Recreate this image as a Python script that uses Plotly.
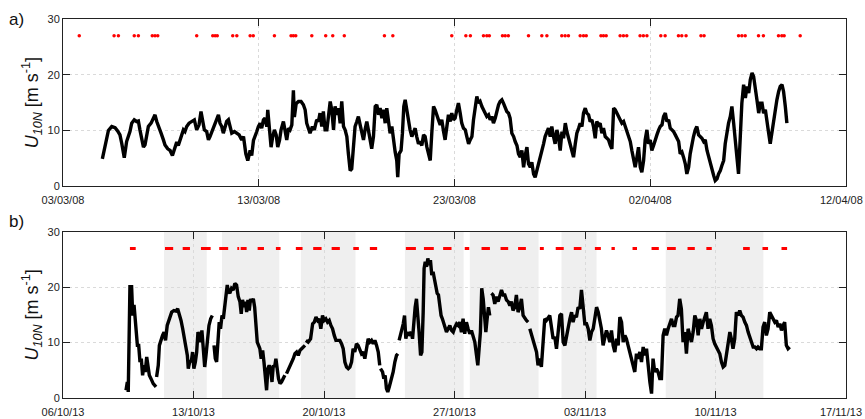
import pandas as pd
import plotly.graph_objects as go

# ---------------- data ----------------
# Panel a): March-April 2008, time in days after 03/03/08 00:00
base_a = pd.Timestamp("2008-03-03")
days_a = [
    2.01, 2.32, 2.49, 2.66, 2.79, 2.91, 3.00, 3.13, 3.25, 3.34, 3.42, 3.51, 3.64, 3.76, 3.85, 3.93,
    4.02, 4.11, 4.19, 4.28, 4.36, 4.50, 4.62, 4.70, 4.79, 4.87, 5.01, 5.13, 5.21, 5.35, 5.47, 5.59,
    5.69, 5.81, 5.89, 5.98, 6.06, 6.15, 6.23, 6.32, 6.44, 6.58, 6.71, 6.83, 6.95, 7.05, 7.12, 7.22,
    7.34, 7.43, 7.51, 7.63, 7.73, 7.85, 7.94, 8.02, 8.11, 8.19, 8.28, 8.36, 8.45, 8.53, 8.62, 8.76,
    8.88, 9.00, 9.13, 9.22, 9.34, 9.44, 9.56, 9.64, 9.73, 9.81, 9.90, 9.98, 10.07, 10.15, 10.24, 10.32,
    10.41, 10.46, 10.53, 10.63, 10.71, 10.80, 10.89, 10.97, 11.06, 11.14, 11.26, 11.35, 11.43, 11.52,
    11.60, 11.69, 11.77, 11.82, 11.91, 12.03, 12.16, 12.28, 12.37, 12.45, 12.54, 12.62, 12.74, 12.84,
    12.96, 13.05, 13.13, 13.22, 13.30, 13.39,
    13.48, 13.56, 13.65, 13.73, 13.82, 13.90, 13.99, 14.07, 14.16, 14.24, 14.33, 14.41, 14.50, 14.58,
    14.67, 14.75, 14.84, 14.92, 15.01, 15.09, 15.18, 15.26, 15.35, 15.43, 15.52, 15.60, 15.69, 15.77,
    15.86, 15.95, 16.03, 16.12, 16.20, 16.29, 16.37, 16.46, 16.54, 16.63, 16.71, 16.80, 16.88, 16.97,
    17.05, 17.10, 17.17, 17.27, 17.34, 17.41, 17.48, 17.56, 17.65, 17.73, 17.82, 17.90, 17.99, 18.07,
    18.16, 18.24, 18.33, 18.42, 18.50, 18.59, 18.67, 18.76, 18.84, 18.93, 19.01, 19.10, 19.18, 19.27,
    19.35, 19.44, 19.52, 19.61, 19.69, 19.78, 19.86, 19.95, 20.03, 20.12, 20.20, 20.29, 20.37, 20.46,
    20.55, 20.63, 20.72, 20.80, 20.89, 20.97, 21.06, 21.14, 21.23, 21.31, 21.40, 21.48, 21.57, 21.65,
    21.74, 21.82, 21.91, 21.99, 22.08, 22.16, 22.25, 22.33, 22.42, 22.50, 22.59, 22.67, 22.76, 22.84,
    22.93, 23.02, 23.10, 23.19, 23.27, 23.36, 23.44, 23.53, 23.61, 23.70, 23.78, 23.87, 23.95, 24.04,
    24.12, 24.21, 24.29, 24.38, 24.46, 24.55, 24.63, 24.72, 24.80, 24.89, 24.97, 25.06, 25.14, 25.23,
    25.31, 25.40, 25.49, 25.57,
    25.66, 25.74, 25.83, 25.91, 26.00, 26.08, 26.17, 26.25, 26.34, 26.42, 26.51, 26.59, 26.68, 26.76,
    26.85, 26.93, 27.02, 27.10, 27.19, 27.27, 27.36, 27.44, 27.53, 27.61, 27.70, 27.79, 27.87, 27.96,
    28.04, 28.13, 28.21, 28.30, 28.38, 28.47, 28.55, 28.64, 28.72, 28.81, 28.89, 28.98, 29.06, 29.15,
    29.23, 29.32, 29.40, 29.49, 29.57, 29.66, 29.74, 29.83, 29.91, 30.00, 30.08, 30.17, 30.26, 30.34,
    30.43, 30.51, 30.60, 30.68, 30.77, 30.85, 30.94, 31.02, 31.11, 31.19, 31.28, 31.36, 31.45, 31.53,
    31.62, 31.70, 31.79, 31.87, 31.96, 32.04, 32.13, 32.21, 32.30, 32.38, 32.47, 32.56, 32.64, 32.73,
    32.81, 32.90, 32.98, 33.07, 33.15, 33.24, 33.32, 33.41, 33.49, 33.58, 33.66, 33.75, 33.83, 33.92,
    34.00, 34.09, 34.17, 34.26, 34.34, 34.43, 34.51, 34.60, 34.68, 34.77, 34.86, 34.94, 35.03, 35.11,
    35.20, 35.28, 35.37, 35.45, 35.54, 35.62, 35.71, 35.79, 35.88, 35.96, 36.05, 36.13, 36.22, 36.30,
    36.39, 36.47, 36.56, 36.64, 36.73, 36.81, 36.90, 36.98,
]
u10_a = [
    4.9, 10.0, 10.7, 10.5, 9.9, 9.2, 7.7, 5.1, 8.0, 8.9, 9.8, 11.3, 11.9, 11.6, 11.7, 10.1,
    8.6, 7.0, 7.4, 8.8, 10.7, 11.3, 12.2, 12.8, 11.6, 10.7, 9.5, 8.3, 7.4, 6.7, 6.4, 5.5,
    6.4, 7.9, 7.3, 8.2, 8.8, 10.1, 9.8, 10.7, 11.3, 11.6, 11.9, 10.1, 11.0, 13.4, 11.9, 10.1,
    9.8, 8.3, 8.9, 10.1, 11.0, 11.9, 12.8, 11.3, 10.7, 9.5, 10.7, 11.6, 11.9, 10.4, 9.5, 9.8,
    9.5, 9.2, 8.3, 8.9, 5.8, 4.6, 6.4, 5.5, 8.2, 9.2, 9.8, 10.7, 11.3, 10.4, 11.9, 12.2,
    10.7, 13.7, 10.7, 7.0, 8.8, 10.1, 9.2, 7.0, 8.2, 10.1, 11.6, 9.5, 8.3, 10.4,
    10.1, 11.0, 17.2, 12.4, 14.8, 15.2, 15.2, 14.6, 13.7, 11.3, 10.4, 9.5, 10.7, 10.1,
    11.9, 11.6, 13.1, 10.7, 13.4, 10.1,
    10.1, 12.2, 15.2, 13.7, 10.1, 14.3, 12.8, 14.0, 11.3, 15.2, 10.7, 10.1, 8.9, 5.8,
    2.8, 3.1, 8.3, 10.7, 11.6, 12.5, 11.0, 9.8, 8.3, 10.1, 11.6, 10.1, 8.3, 6.7,
    8.9, 14.3, 14.6, 12.8, 14.0, 12.2, 13.7, 11.3, 14.0, 11.9, 9.5, 10.7, 8.3, 6.1,
    4.6, 1.6, 5.8, 6.4, 9.5, 14.3, 15.5, 13.7, 11.9, 10.1, 8.9, 9.5, 10.4, 8.9,
    7.6, 8.0, 7.3, 9.2, 8.9, 7.0, 5.8, 4.6, 9.5, 14.3, 13.7, 12.5, 11.9, 11.0,
    11.9, 9.8, 8.3, 10.7, 12.8, 11.6, 13.1, 11.9, 12.2, 13.7, 14.9, 13.1, 11.3, 10.4,
    10.1, 8.9, 7.6, 8.3, 8.9, 11.9, 14.3, 16.1, 14.9, 15.2, 14.3, 13.7, 13.1, 12.5,
    12.8, 11.9, 12.5, 11.3, 12.2, 13.4, 14.6, 15.2, 15.5, 14.9, 14.0, 13.4, 13.1, 12.2,
    9.5, 8.9, 8.0, 7.3, 5.8, 5.2, 6.4, 3.4, 5.5, 7.0, 4.0, 3.4, 4.3, 2.2,
    1.6, 2.8, 3.7, 5.2, 6.1, 7.6, 8.9, 9.8, 10.4, 8.9, 10.7, 8.9, 7.6, 10.1,
    8.9, 6.4, 9.8, 8.6,
    11.3, 9.8, 8.6, 7.0, 6.1, 5.2, 7.6, 9.5, 10.4, 11.3, 10.7, 13.1, 14.0, 13.1,
    12.8, 11.6, 11.9, 10.7, 8.6, 11.6, 11.0, 11.3, 9.5, 10.4, 8.9, 8.6, 8.3, 7.3,
    6.7, 14.0, 13.7, 13.1, 12.5, 11.6, 11.3, 11.6, 10.7, 10.1, 9.2, 8.0, 6.4, 4.6,
    3.4, 5.2, 7.0, 3.4, 2.5, 4.6, 8.3, 10.1, 7.6, 8.3, 6.4, 7.3, 8.6, 9.2,
    10.1, 10.7, 11.0, 12.5, 13.1, 11.6, 11.9, 10.4, 10.1, 9.8, 9.2, 8.6, 8.0, 5.8,
    6.1, 5.2, 4.0, 2.2, 3.4, 5.8, 7.6, 8.9, 10.1, 10.7, 9.2, 8.9, 8.6, 8.0,
    8.3, 6.4, 5.2, 4.3, 2.8, 1.9, 1.0, 1.3, 2.2, 2.8, 3.7, 4.6, 7.6, 9.8,
    11.3, 12.5, 14.3, 11.3, 8.3, 5.2, 2.2, 8.9, 14.9, 18.2, 15.8, 17.9, 16.7, 19.1,
    20.3, 19.7, 17.9, 15.5, 13.1, 14.9, 14.9, 13.1, 13.7, 11.3, 9.5, 7.6, 9.8, 10.7,
    13.7, 15.5, 17.0, 17.9, 18.2, 17.0, 14.3, 11.3,
]
# flagged sampling times (days after 03/03/08)
flags_a = [
    0.83, 2.61, 2.83, 3.64, 3.85, 4.56, 4.70, 4.84, 6.83, 7.65, 7.77, 7.88, 8.67, 8.88, 9.56, 9.72,
    10.80, 11.65, 11.77, 11.89, 12.71, 13.42, 13.78, 14.37, 16.42, 16.85, 19.86, 20.58, 20.81,
    21.48, 21.65, 21.78, 22.45, 22.59, 22.75, 23.78, 24.46, 24.72, 25.48, 25.65, 25.82, 26.42,
    26.59, 26.73, 27.48, 27.61, 27.75, 28.46, 28.63, 28.80, 29.48, 29.65, 29.83, 30.54, 30.76,
    31.44, 31.61, 31.83, 32.59, 32.75, 34.51, 34.68, 34.85, 35.53, 35.78, 36.55, 36.72, 36.84, 37.66,
]

# Panel b): October-November 2013, time in days after 06/10/13 00:00 (None = missing data)
base_b = pd.Timestamp("2013-10-06")
days_b = [
    3.38, 3.45, 3.50, 3.56, 3.59, 3.68, 3.74, 3.81, 3.90, 3.99, 4.06, 4.13, 4.20, 4.27, 4.34, 4.41,
    4.49, 4.56, 4.63, 4.72, 4.84, 4.99, 5.00,
    5.02, 5.11, 5.17, 5.24, 5.34, 5.42, 5.50, 5.59, 5.70, 5.83, 5.95, 6.06, 6.15, 6.24, 6.33, 6.42,
    6.51, 6.59, 6.67, 6.72, 6.81, 6.88, 6.95, 7.02, 7.10, 7.17, 7.24, 7.31, 7.38, 7.45, 7.52, 7.60,
    7.67, 7.74, 7.83, 7.92, 8.01, 8.05,
    8.10, 8.17, 8.24, 8.31, 8.38, 8.45, 8.53, 8.60, 8.67, 8.74, 8.81, 8.88, 8.95, 9.04, 9.13, 9.22,
    9.31, 9.40, 9.49, 9.56, 9.63, 9.71, 9.78, 9.85, 9.92, 9.99, 10.06, 10.13, 10.21, 10.28, 10.35,
    10.42, 10.49, 10.56, 10.63, 10.71, 10.78, 10.85, 10.92, 10.99, 11.06, 11.13, 11.21, 11.28, 11.35,
    11.42, 11.49, 11.56, 11.64, 11.72, 11.81, 11.90, 11.95,
    11.99, 12.08, 12.17, 12.26, 12.35, 12.44, 12.53, 12.62, 12.71, 12.80, 12.89, 12.98, 13.00,
    13.03, 13.15, 13.28, 13.39, 13.48, 13.57, 13.66, 13.74, 13.83, 13.92, 14.01, 14.10, 14.19, 14.28,
    14.37, 14.46, 14.55, 14.64, 14.73,
    14.85, 14.94, 15.03, 15.12, 15.21, 15.30, 15.39, 15.48, 15.56, 15.65, 15.74, 15.83, 15.92, 16.01,
    16.10, 16.19, 16.28, 16.37, 16.46, 16.55, 16.64, 16.73, 16.82, 16.91, 16.99, 17.01,
    17.03, 17.14, 17.21, 17.28, 17.35, 17.42, 17.50, 17.57, 17.64, 17.71, 17.80, 17.89, 17.96, 18.00,
    18.03, 18.10, 18.17, 18.25, 18.32, 18.39, 18.46, 18.53, 18.60, 18.67, 18.75, 18.82, 18.89, 18.96,
    19.03, 19.10, 19.18, 19.25, 19.32, 19.37, 19.43, 19.50, 19.57, 19.64, 19.71, 19.78, 19.85, 19.93,
    20.00, 20.07, 20.14, 20.21, 20.28, 20.35, 20.43, 20.50, 20.57, 20.66, 20.75, 20.84, 20.93, 21.02,
    21.11, 21.20, 21.28, 21.37, 21.46, 21.55, 21.64, 21.73, 21.82, 21.91, 22.00, 22.09, 22.18, 22.25,
    22.32, 22.39, 22.46, 22.54, 22.61, 22.68, 22.75, 22.82, 22.89, 22.94,
    22.98, 23.07, 23.16, 23.25, 23.34, 23.43, 23.52, 23.61, 23.70, 23.79, 23.88, 23.97, 24.05, 24.14,
    24.23, 24.32, 24.41, 24.50, 24.59, 24.68, 24.77, 24.86, 24.95, 25.00,
    25.04, 25.13, 25.22, 25.31, 25.40, 25.48, 25.57, 25.66, 25.75, 25.84, 25.93, 26.02, 26.11, 26.20,
    26.29, 26.38, 26.47, 26.56,
    26.65, 26.74, 26.83, 26.92, 27.01, 27.10, 27.19, 27.28, 27.36, 27.45, 27.54, 27.63, 27.72, 27.81,
    27.90, 27.99, 28.08, 28.17, 28.26, 28.35, 28.44, 28.53, 28.62, 28.71, 28.79, 28.88, 28.97, 29.06,
    29.15, 29.24, 29.33, 29.42, 29.51, 29.60, 29.69, 29.78, 29.87, 29.96, 30.05, 30.14, 30.22, 30.31,
    30.40, 30.49, 30.58, 30.67, 30.76, 30.85, 30.94, 31.03, 31.12, 31.21, 31.30, 31.39, 31.48, 31.57,
    31.65, 31.74, 31.83, 31.92, 32.01, 32.10, 32.19, 32.28, 32.37, 32.46, 32.55, 32.64, 32.73, 32.82,
    32.91, 32.99, 33.08, 33.17, 33.26, 33.35, 33.44, 33.53, 33.62, 33.71, 33.80, 33.89, 33.98, 34.07,
    34.16, 34.25, 34.34, 34.42, 34.51, 34.60, 34.69, 34.78, 34.87, 34.96, 35.05, 35.14, 35.23, 35.32,
    35.41, 35.50, 35.59, 35.68, 35.77, 35.85, 35.94, 36.03, 36.12, 36.21, 36.30, 36.39, 36.48, 36.57,
    36.66, 36.75, 36.84, 36.93, 37.02, 37.11, 37.20, 37.28, 37.37, 37.46, 37.55, 37.64, 37.73, 37.82,
    37.91, 38.00, 38.09, 38.18, 38.27, 38.36, 38.45, 38.54, 38.63, 38.71, 38.80, 38.89, 38.98,
]
u10_b = [
    1.4, 2.9, 1.1, 11.3, 20.1, 20.1, 14.9, 16.8, 13.7, 9.5, 9.5, 6.5, 7.1, 4.1, 5.9, 4.7,
    7.4, 5.9, 4.1, 3.5, 2.6, 2.0, None,
    3.8, 5.9, 9.5, 10.4, 11.3, 11.9, 10.4, 13.1, 14.3, 15.5, 15.8, 15.7, 16.1, 15.2, 14.0, 12.5,
    11.0, 9.5, 7.7, 5.3, 6.8, 6.5, 8.3, 5.3, 6.5, 8.3, 11.9, 11.3, 10.1, 12.2, 8.3, 5.6,
    7.7, 10.7, 13.1, 14.3, 14.9, None,
    9.5, 7.1, 6.5, 9.5, 13.7, 12.5, 14.9, 14.3, 16.8, 17.7, 20.4, 19.2, 18.9, 19.8, 19.5, 20.7,
    20.4, 18.3, 17.4, 15.2, 17.7, 16.4, 17.4, 15.5, 17.7, 15.8, 17.9, 17.4, 17.9, 16.4, 13.7,
    10.1, 9.5, 8.9, 7.1, 8.6, 6.5, 4.1, 1.4, 5.3, 5.9, 5.3, 2.9, 5.9, 5.6,
    7.1, 4.7, 3.5, 2.6, 2.9, 3.5, 4.1, None,
    4.4, 5.0, 5.6, 6.2, 7.1, 8.0, 8.3, 7.7, 8.6, 8.9, 9.2, 9.5, None,
    10.4, 10.1, 10.7, 13.4, 13.7, 14.6, 14.0, 14.3, 12.5, 14.9, 14.0, 14.3, 13.7, 14.0,
    13.1, 12.5, 11.3, 10.4, 10.4,
    10.4, 9.8, 8.9, 6.5, 5.6, 5.3, 5.6, 6.5, 8.9, 8.3, 9.8, 9.5, 8.6, 8.0,
    8.3, 7.1, 8.9, 10.7, 10.1, 10.4, 9.8, 10.4, 9.5, 8.3, 5.9, None,
    5.3, 4.7, 3.5, 4.1, 1.7, 1.1, 2.0, 2.9, 4.1, 4.7, 6.5, 7.7, 8.0, None,
    10.4, 11.3, 11.9, 13.4, 14.9, 10.7, 11.9, 11.3, 11.6, 11.9, 10.7, 14.3, 16.4, 17.9,
    15.5, 11.9, 7.7, 8.3, 15.5, 23.4, 24.6, 23.7, 25.2, 24.0, 24.9, 22.2, 22.8, 21.3,
    19.8, 18.9, 18.6, 16.7, 14.9, 14.3, 13.4, 13.1, 11.9, 12.5, 13.1, 12.2, 11.9, 12.8,
    13.4, 13.1, 13.7, 11.9, 14.3, 11.6, 13.7, 12.5, 11.6, 12.2, 11.3, 10.1, 7.7, 5.9,
    8.9, 11.9, 19.8, 17.9, 14.9, 11.9, 14.3, 16.4, 14.9, None,
    18.9, 18.6, 17.0, 18.3, 17.4, 18.6, 19.5, 18.6, 18.6, 17.7, 17.4, 16.7, 17.4, 15.8,
    16.4, 18.6, 15.5, 16.4, 17.9, 14.9, 14.3, 14.0, 13.7, None,
    12.5, 11.3, 10.1, 9.2, 8.3, 5.9, 7.1, 5.6, 10.1, 14.3, 14.0, 14.6, 14.9, 12.8,
    10.7, 11.0, 8.9, 11.9,
    14.9, 15.2, 10.1, 9.5, 11.3, 13.1, 14.3, 15.5, 13.7, 14.9, 14.6, 16.4, 16.1, 19.5,
    16.4, 13.4, 13.4, 12.5, 10.4, 11.9, 12.5, 14.3, 16.4, 15.5, 14.3, 12.5, 9.5, 10.7,
    12.2, 11.3, 10.1, 12.2, 9.5, 8.3, 10.7, 9.5, 14.6, 13.7, 10.1, 11.3, 10.7, 9.5,
    8.3, 7.7, 6.5, 4.7, 8.0, 7.1, 8.3, 6.5, 9.2, 7.7, 8.9, 5.3, 2.9, 0.8,
    7.1, 4.7, 5.3, 4.7, 3.5, 3.5, 11.3, 12.5, 11.3, 12.5, 13.7, 14.3, 13.1, 13.1,
    14.6, 14.9, 17.9, 16.1, 10.1, 11.9, 8.0, 12.5, 11.3, 10.1, 11.9, 14.9, 14.0, 11.3,
    14.3, 12.5, 13.7, 14.6, 15.5, 12.5, 14.3, 13.1, 10.7, 9.8, 9.2, 8.6, 8.0, 6.5,
    5.6, 5.9, 7.7, 9.5, 11.9, 10.7, 8.9, 10.7, 15.5, 14.9, 15.8, 14.9, 14.6, 13.7,
    13.1, 11.9, 10.7, 10.1, 9.2, 9.2, 8.9, 9.2, 8.9, 8.9, 12.8, 13.7, 11.3, 12.5,
    15.5, 14.9, 14.6, 13.7, 14.0, 12.8, 13.4, 12.2, 13.1, 13.7, 9.5, 8.9, 9.2,
]
# flagged sampling periods (start / end, days after 06/10/13)
flag_start_b = [3.59, 5.47, 6.42, 7.40, 8.38, 9.35, 9.53, 10.44, 11.42, 12.49, 13.42, 14.41, 15.57,
                16.46, 18.39, 19.36, 20.39, 21.55, 22.45, 23.47, 24.41, 25.58, 26.43, 27.40, 28.53,
                29.42, 30.55, 31.57, 32.40, 33.50, 34.51, 36.48, 37.52, 38.54]
flag_end_b = [3.90, 5.91, 6.81, 7.92, 8.86, 9.45, 9.85, 10.78, 11.67, 12.85, 13.87, 14.85, 15.87,
              16.85, 18.93, 19.89, 20.84, 21.79, 22.90, 23.88, 24.83, 25.79, 26.86, 27.81, 28.85,
              29.60, 30.79, 31.96, 32.87, 33.89, 34.80, 36.84, 37.82, 38.84]
# shaded periods (start / end, days after 06/10/13)
shade_start_b = [5.42, 8.53, 12.76, 18.34, 21.82, 26.74, 32.33]
shade_end_b = [7.71, 11.60, 15.69, 21.49, 25.51, 28.62, 37.57]
flag_level = 27

# axis limits and the label of each axis' closing tick
range_a = ["2008-03-03", "2008-04-12"]
range_b = ["2013-10-06", "2013-11-17"]
last_tick_a = "12/04/08"
last_tick_b = "17/11/13"


def to_time(base, days):
    return [base + pd.Timedelta(days=d) for d in days]


# ---------------- figure ----------------
fig = go.Figure()

fig.add_trace(go.Scatter(x=to_time(base_a, days_a), y=u10_a, mode="lines",
                         line=dict(color="black", width=3.4), xaxis="x", yaxis="y",
                         showlegend=False))
fig.add_trace(go.Scatter(x=to_time(base_a, flags_a), y=[flag_level] * len(flags_a), mode="markers",
                         marker=dict(color="#ff0000", size=3.5, line=dict(width=0)),
                         xaxis="x", yaxis="y", showlegend=False))

fig.add_trace(go.Scatter(x=to_time(base_b, days_b), y=u10_b, mode="lines",
                         line=dict(color="black", width=3.4), connectgaps=False,
                         xaxis="x2", yaxis="y2", showlegend=False))

fx, fy = [], []
for s, e in zip(flag_start_b, flag_end_b):
    fx += [base_b + pd.Timedelta(days=s), base_b + pd.Timedelta(days=e), None]
    fy += [flag_level, flag_level, None]
fig.add_trace(go.Scatter(x=fx, y=fy, mode="lines", line=dict(color="#ff0000", width=3),
                         xaxis="x2", yaxis="y2", showlegend=False))

shapes = []
for s, e in zip(shade_start_b, shade_end_b):
    shapes.append(dict(type="rect", xref="x2", yref="y2 domain",
                       x0=base_b + pd.Timedelta(days=s), x1=base_b + pd.Timedelta(days=e),
                       y0=0, y1=1, fillcolor="#efefef", line=dict(width=0), layer="below"))

tick_font = dict(family="Liberation Sans, Arial, sans-serif", size=11, color="#222")
axis_common = dict(showline=True, linecolor="#222", linewidth=1, mirror="ticks",
                   ticks="inside", ticklen=7, tickcolor="#222", automargin=False,
                   showgrid=True, gridcolor="#dadada", griddash="dot", gridwidth=1,
                   zeroline=False, tickfont=tick_font)

ytitle = "<i>U</i><sub><i>10N</i></sub> [m s<sup>-1</sup>]"

# closing tick labels sit at the right edge of each panel
end_labels = [
    dict(text=last_tick_a, xref="x", yref="y domain", x=range_a[1], y=0, xanchor="center",
         yanchor="top", xshift=-5, yshift=-6, showarrow=False, font=tick_font),
    dict(text=last_tick_b, xref="x2", yref="y2 domain", x=range_b[1], y=0, xanchor="center",
         yanchor="top", xshift=-5, yshift=-6, showarrow=False, font=tick_font),
]

fig.update_layout(
    width=865, height=419,
    margin=dict(l=63, r=19, t=19, b=21),
    plot_bgcolor="white", paper_bgcolor="white",
    font=dict(family="Liberation Sans, Arial, sans-serif", color="#111"),
    shapes=shapes,
    xaxis=dict(domain=[0, 1], anchor="y", type="date",
               range=range_a, tick0=range_a[0], dtick=10 * 86400000,
               tickformat="%d/%m/%y", ticklabelstandoff=4, **axis_common),
    yaxis=dict(domain=[0.559, 1], anchor="x", range=[0, 30], dtick=10,
               title=dict(text=ytitle, font=dict(size=18), standoff=4), **axis_common),
    xaxis2=dict(domain=[0, 1], anchor="y2", type="date",
                range=range_b, tick0=range_b[0], dtick=7 * 86400000,
                tickformat="%d/%m/%y", ticklabelstandoff=4, **axis_common),
    yaxis2=dict(domain=[0, 0.4384], anchor="x2", range=[0, 30], dtick=10,
                title=dict(text=ytitle, font=dict(size=18), standoff=4), **axis_common),
    annotations=end_labels + [
        dict(text="a)", xref="paper", yref="paper", x=-0.071, y=1.0, xanchor="left",
             yanchor="middle", showarrow=False, font=dict(size=17, color="#111")),
        dict(text="b)", xref="paper", yref="paper", x=-0.071, y=0.467, xanchor="left",
             yanchor="middle", showarrow=False, font=dict(size=17, color="#111")),
    ],
)

fig.write_html("out.html")
